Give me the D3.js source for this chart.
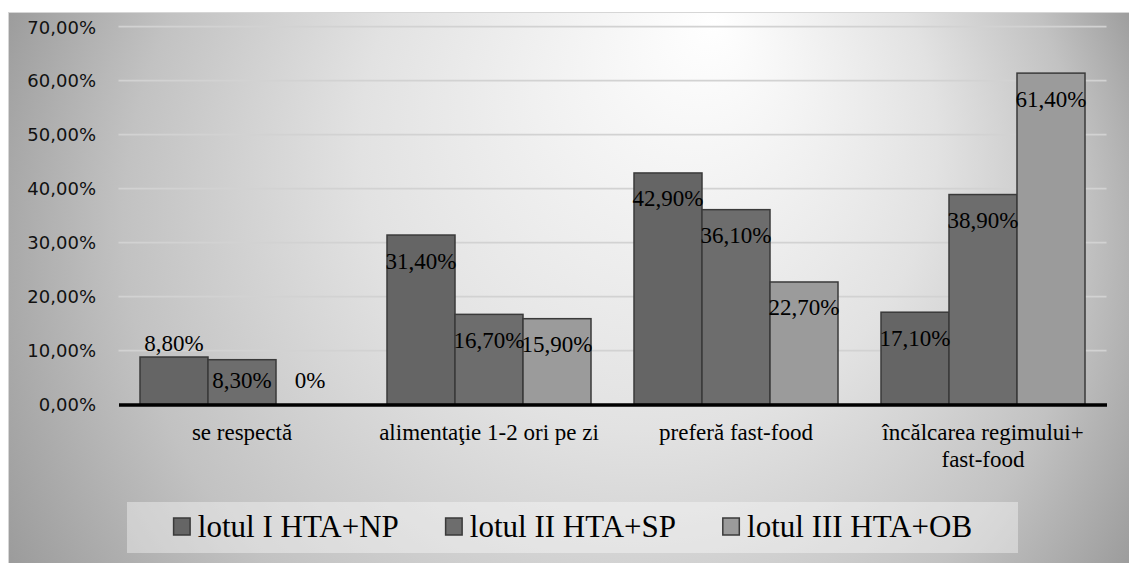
<!DOCTYPE html>
<html>
<head>
<meta charset="utf-8">
<script src="https://cdn.jsdelivr.net/npm/d3@7"></script>
<style>
  html, body { margin: 0; padding: 0; background: #ffffff; }
  svg { display: block; }
  .serif { font-family: "Liberation Serif", "Times New Roman", "DejaVu Serif", serif; }
  .sans { font-family: "DejaVu Sans", Verdana, sans-serif; }
</style>
</head>
<body>
<svg id="chart" width="1129" height="563"></svg>
<script>
// ---- data ----
const categories = ["se respectă", "alimentaţie 1-2 ori pe zi", "preferă fast-food", "încălcarea regimului+ fast-food"];
const seriesNames = ["lotul I HTA+NP", "lotul II HTA+SP", "lotul III HTA+OB"];
const lot1 = [8.8, 31.4, 42.9, 17.1];
const lot2 = [8.3, 16.7, 36.1, 38.9];
const lot3 = [0, 15.9, 22.7, 61.4];
const yTickValues = [0, 10, 20, 30, 40, 50, 60, 70];
const yTickLabels = ["0,00%", "10,00%", "20,00%", "30,00%", "40,00%", "50,00%", "60,00%", "70,00%"];

// ---- styles ----
const seriesColors = ["#656565", "#6d6d6d", "#9b9b9b"];
const labelAbove = new Set(["0|0"]); // category index | series index placed above bar

const svg = d3.select("#chart");
const W = 1129, H = 563;
const chartBox = { x: 8, y: 12, w: W - 8, h: H - 12 };
const plot = { left: 118.5, right: 1106.5, top: 26.7, bottom: 404.5 };

// background gradient
const defs = svg.append("defs");
const grad = defs.append("radialGradient")
  .attr("id", "bg").attr("gradientUnits", "userSpaceOnUse")
  .attr("cx", 568).attr("cy", 290).attr("r", 640)
  .attr("fx", 715).attr("fy", 20);
grad.append("stop").attr("offset", "0").attr("stop-color", "#ffffff");
grad.append("stop").attr("offset", "0.45").attr("stop-color", "#e2e2e2");
grad.append("stop").attr("offset", "0.75").attr("stop-color", "#c2c2c2");
grad.append("stop").attr("offset", "1").attr("stop-color", "#989898");

svg.append("rect")
  .attr("x", chartBox.x + 0.5).attr("y", chartBox.y + 0.5)
  .attr("width", chartBox.w).attr("height", chartBox.h)
  .attr("fill", "url(#bg)").attr("stroke", "#d6d6d6").attr("stroke-width", 1);

// scales
const pad = 43 / 247;
const x0 = d3.scaleBand().domain(categories).range([plot.left, plot.right])
  .paddingInner(pad).paddingOuter(pad / 2);
const x1 = d3.scaleBand().domain(seriesNames).range([0, x0.bandwidth()]);
const y = d3.scaleLinear().domain([0, 70]).range([plot.bottom, plot.top]);

// gridlines
svg.append("g").selectAll("line")
  .data(yTickValues.filter(v => v > 0))
  .join("line")
  .attr("x1", plot.left).attr("x2", plot.right)
  .attr("y1", d => y(d)).attr("y2", d => y(d))
  .attr("stroke", "#d2d2d2").attr("stroke-width", 1.8);

// y axis labels via d3 axis
const yAxis = d3.axisLeft(y).tickValues(yTickValues)
  .tickFormat((d, i) => yTickLabels[i]).tickSize(0).tickPadding(0);
const gy = svg.append("g").attr("transform", "translate(96,0)").call(yAxis);
gy.attr("font-family", null).attr("font-size", null);
gy.select(".domain").remove();
gy.selectAll("text").attr("class", "sans").style("font-size", "18px")
  .attr("fill", "#111").attr("dy", "0.35em");

// bars
const seriesData = [lot1, lot2, lot3];
const rows = [];
categories.forEach((c, ci) => {
  seriesNames.forEach((s, si) => {
    rows.push({ c, ci, s, si, v: seriesData[si][ci] });
  });
});

svg.append("g").selectAll("rect")
  .data(rows.filter(d => d.v > 0))
  .join("rect")
  .attr("x", d => x0(d.c) + x1(d.s))
  .attr("y", d => y(d.v))
  .attr("width", x1.bandwidth())
  .attr("height", d => y(0) - y(d.v))
  .attr("fill", d => seriesColors[d.si])
  .attr("stroke", "#3a3a3a").attr("stroke-width", 1.5);

// axis line
const xAxis = d3.axisBottom(x0).tickSize(0).tickFormat("");
const gx = svg.append("g").attr("transform", `translate(0,${y(0)})`).call(xAxis);
gx.select(".domain").attr("stroke", "#000").attr("stroke-width", 3.5);

// data labels
const fmt = v => v === 0 ? "0%" : v.toFixed(2).replace(".", ",") + "%";
svg.append("g").selectAll("text")
  .data(rows)
  .join("text")
  .attr("class", "serif")
  .attr("x", d => x0(d.c) + x1(d.s) + x1.bandwidth() / 2)
  .attr("y", d => labelAbove.has(d.ci + "|" + d.si)
    ? y(d.v) - 6
    : Math.min(y(d.v) + 33.5, y(0) - 16.5))
  .attr("text-anchor", "middle")
  .style("font-size", "23px").attr("fill", "#000")
  .text(d => fmt(d.v));

// category labels (wrapped)
const catG = svg.append("g");
categories.forEach(c => {
  const cxp = x0(c) + x0.bandwidth() / 2;
  const t = catG.append("text")
    .attr("class", "serif")
    .attr("x", cxp)
    .attr("y", 440)
    .attr("text-anchor", "middle")
    .style("font-size", "23px").attr("fill", "#000");
  const words = c.split(" ");
  let line = [];
  let tspan = t.append("tspan").attr("x", cxp).attr("dy", 0);
  words.forEach(w => {
    line.push(w);
    tspan.text(line.join(" "));
    if (tspan.node().getComputedTextLength() > x0.step() - 10 && line.length > 1) {
      line.pop();
      tspan.text(line.join(" "));
      line = [w];
      tspan = t.append("tspan").attr("x", cxp).attr("dy", 27).text(w);
    }
  });
});

// legend
const legBox = { x: 127, y: 502, w: 891, h: 51 };
svg.append("rect")
  .attr("x", legBox.x).attr("y", legBox.y)
  .attr("width", legBox.w).attr("height", legBox.h)
  .attr("fill", "#ffffff").attr("fill-opacity", 0.38);

const legG = svg.append("g");
const items = [];
seriesNames.forEach((s, i) => {
  const g = legG.append("g");
  g.append("rect").attr("x", 0.75).attr("y", -9).attr("width", 16.5).attr("height", 17)
    .attr("fill", seriesColors[i]).attr("stroke", "#3a3a3a").attr("stroke-width", 1.5);
  const t = g.append("text").attr("class", "serif").attr("x", 25).attr("y", 10)
    .style("font-size", "31px").attr("fill", "#000").text(s);
  const w = 25 + t.node().getComputedTextLength();
  items.push({ g, w });
});
const gap = 46;
const total = d3.sum(items, d => d.w) + gap * (items.length - 1);
let start = legBox.x + (legBox.w - total) / 2;
items.forEach(it => {
  it.g.attr("transform", `translate(${start},527)`);
  start += it.w + gap;
});
</script>
</body>
</html>
